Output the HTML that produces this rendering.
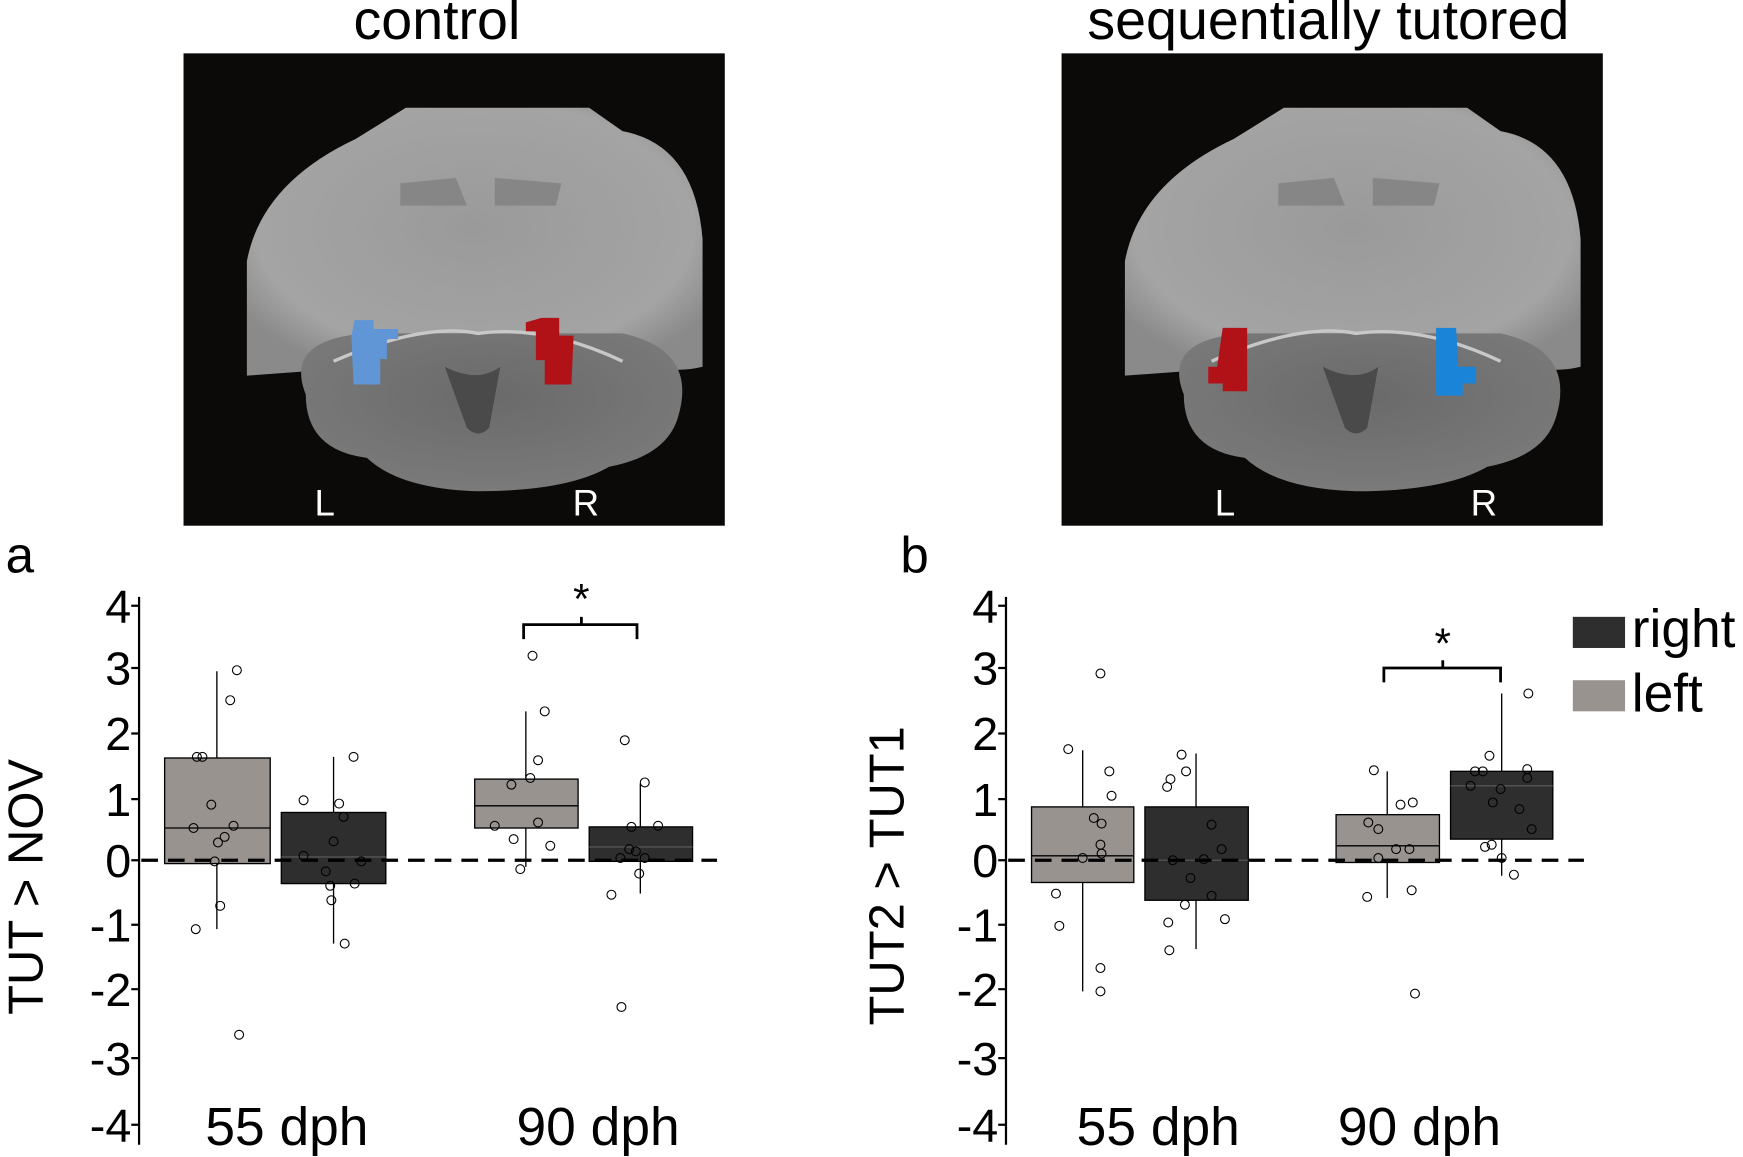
<!DOCTYPE html>
<html><head><meta charset="utf-8"><style>
html,body{margin:0;padding:0;background:#fff;}
svg{display:block;}
text{font-family:"Liberation Sans",Arial,sans-serif;}
</style></head><body>
<svg width="1743" height="1157" viewBox="0 0 1568 1041" xmlns="http://www.w3.org/2000/svg">
<defs>
<radialGradient id="g1" cx="0.5" cy="0.45" r="0.6">
<stop offset="0" stop-color="#9a9a9a"/><stop offset="0.8" stop-color="#a4a4a4"/><stop offset="1" stop-color="#8a8a8a"/>
</radialGradient>
<radialGradient id="g2" cx="0.5" cy="0.4" r="0.6">
<stop offset="0" stop-color="#6a6a6a"/><stop offset="1" stop-color="#7a7a7a"/>
</radialGradient>
<g id="brain">
<path d="M222,338 L222,235 Q235,165 320,125 L365,97 L530,97 L560,118 Q625,130 632,215 L632,330 Q600,338 565,322 L400,325 Z" fill="url(#g1)"/>
<path d="M275,355 Q255,305 330,300 L560,300 Q628,315 610,375 Q600,410 548,420 Q510,442 430,442 Q360,440 330,412 Q275,405 275,355 Z" fill="url(#g2)"/>
<path d="M360,165 L410,160 L420,185 L360,185 Z M445,160 L505,165 L500,185 L445,185 Z" fill="#777" opacity="0.6"/>
<path d="M400,330 Q430,345 450,330 L440,385 Q430,395 420,385 Z" fill="#4a4a4a"/>
<path d="M300,325 Q380,290 430,300 Q490,292 560,325" stroke="#c8c8c8" stroke-width="3" fill="none"/>
</g>
</defs>
<rect width="1568" height="1041" fill="#fff"/>
<text x="393" y="35" font-size="50" text-anchor="middle">control</text>
<text x="1195" y="35" font-size="50" text-anchor="middle">sequentially tutored</text>
<rect x="165" y="48" width="487" height="425" fill="#0b0a08"/>
<rect x="955" y="48" width="487" height="425" fill="#0b0a08"/>
<use href="#brain"/>
<use href="#brain" transform="translate(790,0)"/>
<path d="M319,288 L336,288 L336,296 L358,296 L358,305 L348,305 L348,323 L342,323 L342,346 L318,346 L316,302 Z" fill="#6096d6"/>
<path d="M487,286 L503,286 L503,302 L516,302 L514,346 L490,346 L490,324 L482,324 L482,298 L473,298 L473,290 Z" fill="#b01218"/>
<path d="M1100,295 L1122,295 L1122,352 L1100,352 L1100,345 L1087,345 L1087,330 L1095,330 Z" fill="#b01218"/>
<path d="M1292,295 L1310,295 L1312,330 L1328,330 L1328,345 L1316,345 L1316,356 L1292,356 Z" fill="#1a84d8"/>
<g fill="#fff" font-size="33" text-anchor="middle">
<text x="292" y="464">L</text><text x="527" y="464">R</text>
<text x="1102" y="464">L</text><text x="1335" y="464">R</text>
</g>
<text x="5" y="515" font-size="46">a</text>
<text x="810" y="515" font-size="46">b</text>
<g font-size="42" text-anchor="end">
<text x="118" y="560">4</text><text x="118" y="616">3</text><text x="118" y="675">2</text><text x="118" y="734">1</text><text x="118" y="789">0</text><text x="118" y="847">-1</text><text x="118" y="905">-2</text><text x="118" y="967">-3</text><text x="118" y="1027">-4</text>
<text x="898" y="560">4</text><text x="898" y="616">3</text><text x="898" y="675">2</text><text x="898" y="734">1</text><text x="898" y="789">0</text><text x="898" y="847">-1</text><text x="898" y="905">-2</text><text x="898" y="967">-3</text><text x="898" y="1027">-4</text>
</g>
<text transform="translate(38,798) rotate(-90)" font-size="44" text-anchor="middle">TUT &gt; NOV</text>
<text transform="translate(813,788) rotate(-90)" font-size="44" text-anchor="middle">TUT2 &gt; TUT1</text>
<g stroke="#000" stroke-width="2">
<line x1="125" y1="537" x2="125" y2="1030"/>
<line x1="905" y1="537" x2="905" y2="1030"/>
<path d="M118,545h7M118,601h7M118,660h7M118,719h7M118,774h7M118,832h7M118,890h7M118,952h7M118,1012h7"/>
<path d="M898,545h7M898,601h7M898,660h7M898,719h7M898,774h7M898,832h7M898,890h7M898,952h7M898,1012h7"/>
</g>
<g stroke="#000" stroke-width="1.2">
<line x1="195" y1="604" x2="195" y2="836"/>
<rect x="148" y="682" width="95" height="95" fill="#999390"/>
<line x1="148" y1="745" x2="243" y2="745"/>
<line x1="300" y1="681" x2="300" y2="849"/>
<rect x="253" y="731" width="94" height="64" fill="#2e2e2e"/>
<line x1="253" y1="771" x2="347" y2="771" stroke="#555"/>
<line x1="473" y1="640" x2="473" y2="780"/>
<rect x="427" y="701" width="93" height="44" fill="#999390"/>
<line x1="427" y1="725" x2="520" y2="725"/>
<line x1="576" y1="705" x2="576" y2="804"/>
<rect x="530" y="744" width="93" height="31" fill="#2e2e2e"/>
<line x1="530" y1="762" x2="623" y2="762" stroke="#555"/>
<line x1="974" y1="675" x2="974" y2="892"/>
<rect x="928" y="726" width="92" height="68" fill="#999390"/>
<line x1="928" y1="770" x2="1020" y2="770"/>
<line x1="1076" y1="678" x2="1076" y2="854"/>
<rect x="1030" y="726" width="93" height="84" fill="#2e2e2e"/>
<line x1="1030" y1="774" x2="1123" y2="774" stroke="#555"/>
<line x1="1248" y1="694" x2="1248" y2="808"/>
<rect x="1202" y="733" width="93" height="43" fill="#999390"/>
<line x1="1202" y1="761" x2="1295" y2="761"/>
<line x1="1351" y1="624" x2="1351" y2="788"/>
<rect x="1305" y="694" width="92" height="61" fill="#2e2e2e"/>
<line x1="1305" y1="707" x2="1397" y2="707" stroke="#555"/>
</g>
<g stroke="#000" stroke-width="3" stroke-dasharray="15,9">
<line x1="127" y1="774" x2="645" y2="774"/>
<line x1="907" y1="774" x2="1425" y2="774"/>
</g>
<g fill="none" stroke="#000" stroke-width="1" >
<circle cx="213" cy="603" r="4"/><circle cx="207" cy="630" r="4"/><circle cx="177" cy="681" r="4"/><circle cx="182" cy="681" r="4"/><circle cx="190" cy="724" r="4"/><circle cx="174" cy="745" r="4"/><circle cx="210" cy="743" r="4"/><circle cx="202" cy="753" r="4"/><circle cx="196" cy="758" r="4"/><circle cx="193" cy="775" r="4"/><circle cx="198" cy="815" r="4"/><circle cx="176" cy="836" r="4"/><circle cx="215" cy="931" r="4"/>
<circle cx="318" cy="681" r="4"/><circle cx="273" cy="720" r="4"/><circle cx="305" cy="723" r="4"/><circle cx="309" cy="735" r="4"/><circle cx="300" cy="757" r="4"/><circle cx="273" cy="770" r="4"/><circle cx="325" cy="775" r="4"/><circle cx="293" cy="784" r="4"/><circle cx="319" cy="795" r="4"/><circle cx="297" cy="797" r="4"/><circle cx="298" cy="810" r="4"/><circle cx="310" cy="849" r="4"/>
<circle cx="479" cy="590" r="4"/><circle cx="490" cy="640" r="4"/><circle cx="484" cy="684" r="4"/><circle cx="477" cy="700" r="4"/><circle cx="460" cy="706" r="4"/><circle cx="445" cy="743" r="4"/><circle cx="484" cy="740" r="4"/><circle cx="462" cy="755" r="4"/><circle cx="495" cy="761" r="4"/><circle cx="468" cy="782" r="4"/>
<circle cx="562" cy="666" r="4"/><circle cx="580" cy="704" r="4"/><circle cx="568" cy="744" r="4"/><circle cx="592" cy="743" r="4"/><circle cx="566" cy="764" r="4"/><circle cx="572" cy="766" r="4"/><circle cx="558" cy="772" r="4"/><circle cx="580" cy="772" r="4"/><circle cx="575" cy="786" r="4"/><circle cx="550" cy="805" r="4"/><circle cx="559" cy="906" r="4"/>
<circle cx="990" cy="606" r="4"/><circle cx="961" cy="674" r="4"/><circle cx="998" cy="694" r="4"/><circle cx="1000" cy="716" r="4"/><circle cx="984" cy="736" r="4"/><circle cx="991" cy="741" r="4"/><circle cx="990" cy="760" r="4"/><circle cx="991" cy="768" r="4"/><circle cx="974" cy="772" r="4"/><circle cx="950" cy="804" r="4"/><circle cx="953" cy="833" r="4"/><circle cx="990" cy="871" r="4"/><circle cx="990" cy="892" r="4"/>
<circle cx="1063" cy="679" r="4"/><circle cx="1053" cy="701" r="4"/><circle cx="1067" cy="694" r="4"/><circle cx="1050" cy="708" r="4"/><circle cx="1090" cy="742" r="4"/><circle cx="1099" cy="764" r="4"/><circle cx="1055" cy="774" r="4"/><circle cx="1083" cy="773" r="4"/><circle cx="1071" cy="790" r="4"/><circle cx="1090" cy="806" r="4"/><circle cx="1066" cy="814" r="4"/><circle cx="1051" cy="830" r="4"/><circle cx="1102" cy="827" r="4"/><circle cx="1052" cy="855" r="4"/>
<circle cx="1236" cy="693" r="4"/><circle cx="1231" cy="740" r="4"/><circle cx="1240" cy="746" r="4"/><circle cx="1260" cy="724" r="4"/><circle cx="1271" cy="722" r="4"/><circle cx="1256" cy="764" r="4"/><circle cx="1268" cy="764" r="4"/><circle cx="1240" cy="772" r="4"/><circle cx="1270" cy="801" r="4"/><circle cx="1230" cy="807" r="4"/><circle cx="1273" cy="894" r="4"/>
<circle cx="1375" cy="624" r="4"/><circle cx="1340" cy="680" r="4"/><circle cx="1327" cy="694" r="4"/><circle cx="1334" cy="694" r="4"/><circle cx="1374" cy="692" r="4"/><circle cx="1374" cy="700" r="4"/><circle cx="1323" cy="707" r="4"/><circle cx="1350" cy="710" r="4"/><circle cx="1343" cy="722" r="4"/><circle cx="1367" cy="728" r="4"/><circle cx="1378" cy="746" r="4"/><circle cx="1336" cy="762" r="4"/><circle cx="1342" cy="760" r="4"/><circle cx="1351" cy="772" r="4"/><circle cx="1362" cy="787" r="4"/>
</g>
<g fill="none" stroke="#000" stroke-width="2.5">
<path d="M471,575 V562 H573 V575 M523,562 V555"/>
<path d="M1245,614 V601 H1350 V614 M1298,601 V594"/>
</g>
<text x="523" y="552" font-size="38" text-anchor="middle">*</text>
<text x="1298" y="592" font-size="38" text-anchor="middle">*</text>
<rect x="1415" y="555" width="47" height="28" fill="#2e2e2e"/>
<rect x="1415" y="612" width="47" height="28" fill="#999390"/>
<text x="1468" y="582" font-size="48">right</text>
<text x="1468" y="640" font-size="48">left</text>
<text x="258" y="1030" font-size="48" text-anchor="middle">55 dph</text>
<text x="538" y="1030" font-size="48" text-anchor="middle">90 dph</text>
<text x="1042" y="1030" font-size="48" text-anchor="middle">55 dph</text>
<text x="1277" y="1030" font-size="48" text-anchor="middle">90 dph</text>
</svg>
</body></html>
